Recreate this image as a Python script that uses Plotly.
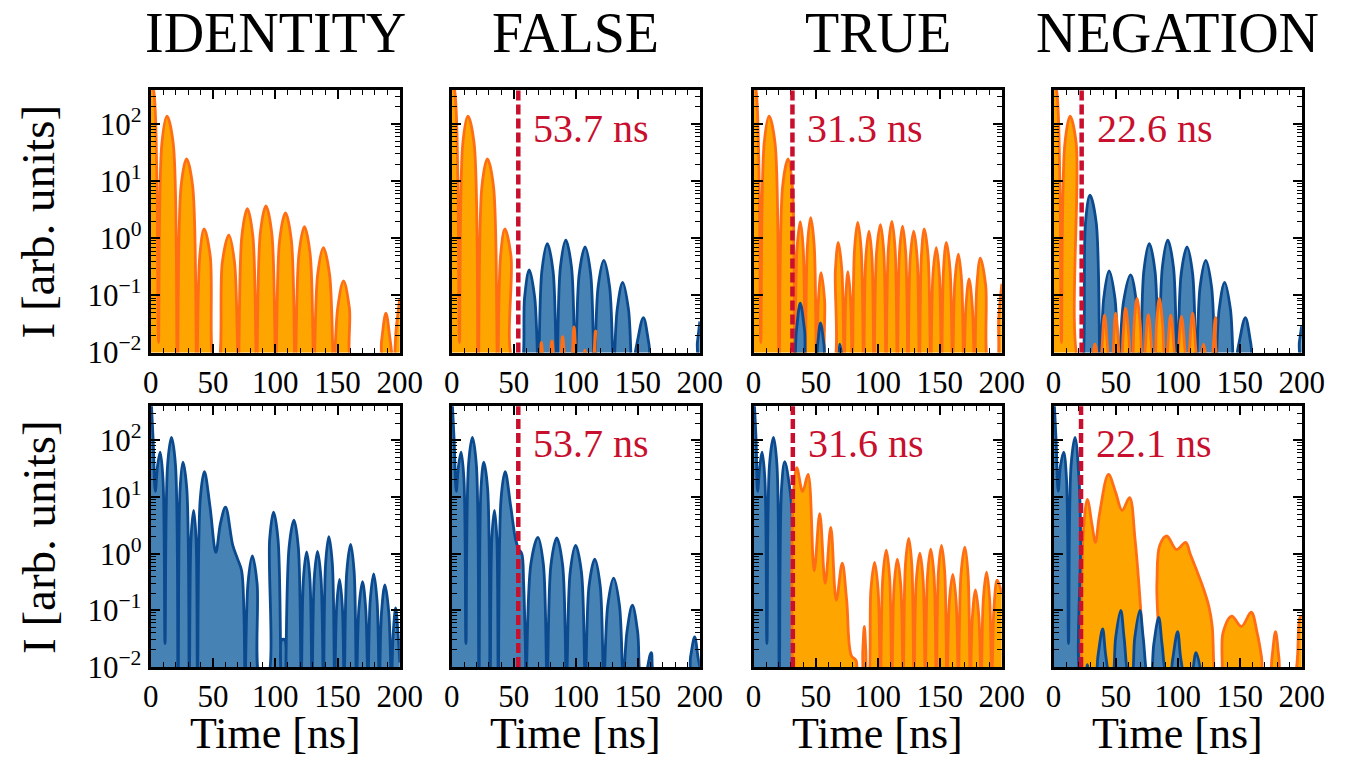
import plotly.graph_objects as go

# value standing for an intensity zero (drawn just below the 1e-2 axis floor)
Z = 0.006

# ---------------- data: (time [ns], intensity) ----------------
# Row 1 (top)
id_top_orange = [(0, 800), (3, 300), (5, 10), (6.3, 0.015), (9.0, 46), (13.1, 138), (18.1, 46), (21.4, Z),
                 (24.4, 8.2), (28.8, 24.5), (33.7, 8.2), (37.0, Z), (39.4, 0.49), (42.9, 1.47), (47.8, 0.49),
                 (51.0, Z), (54.0, Z), (57.5, 0.38), (62.7, 1.14), (67.3, 0.38), (70.3, Z), (73.2, 1.1),
                 (77.6, 3.3), (82.0, 1.1), (85.0, Z), (88.0, 1.23), (92.5, 3.7), (97.2, 1.23), (100.4, Z),
                 (103.5, 0.93), (108.2, 2.8), (112.9, 0.93), (116.0, Z), (119.0, 0.53), (123.4, 1.6),
                 (128.0, 0.53), (131.0, Z), (134.0, 0.23), (138.6, 0.69), (143.6, 0.23), (147.0, Z),
                 (150.1, 0.06), (154.8, 0.18), (159.5, 0.06), (162.6, Z), (183.0, Z), (185.3, 0.016),
                 (188.8, 0.049), (192.3, 0.016), (195.0, Z), (197.0, 0.025), (200, 0.09)]

fa_top_orange = [(0, 800), (3, 300), (5, 10), (6.3, 0.015), (9.0, 46), (13.1, 138), (18.1, 46), (21.4, Z),
                 (24.4, 8.2), (28.8, 24.5), (33.7, 8.2), (37.0, Z), (39.4, 0.49), (42.9, 1.47), (47.8, 0.49),
                 (51.0, Z), (69.5, Z), (72.2, 0.015), (75.0, Z), (78.0, Z), (80.8, 0.016), (83.6, Z),
                 (86.5, Z), (89.4, 0.019), (92.5, Z), (95.5, Z), (98.6, 0.028), (101.8, Z), (104.8, Z),
                 (107.4, 0.011), (110.0, Z), (113.0, Z), (116.0, 0.024), (119.0, Z), (200, Z)]
fa_top_blue = [(53.7, Z), (56.3, Z), (58.8, 0.093), (62.5, 0.28), (66.9, 0.093), (69.8, Z), (72.7, 0.27),
               (77.1, 0.81), (81.7, 0.27), (84.7, Z), (87.6, 0.31), (92.0, 0.93), (96.6, 0.31), (99.6, Z),
               (102.8, 0.24), (107.5, 0.71), (112.0, 0.24), (115.0, Z), (118.0, 0.14), (122.6, 0.41),
               (127.3, 0.14), (130.5, Z), (133.4, 0.057), (137.8, 0.17), (142.5, 0.057), (145.6, Z),
               (149.2, 0.014), (154.5, 0.041), (159.0, 0.014), (162.0, Z), (196.0, Z), (198.0, 0.015),
               (200, 0.035)]

tr_top_orange = [(0, 800), (2.5, 300), (4.5, 10), (5.8, 0.015), (8.5, 46), (12.5, 138), (17.3, 46), (20.5, Z),
                 (23.4, 8.2), (27.8, 24.5), (31.3, 8), (32.5, 0.5), (33.2, Z), (35.0, 0.65), (37.6, 1.95),
                 (40.0, 0.65), (41.6, Z), (43.4, 0.77), (46.0, 2.3), (48.8, 0.77), (50.7, Z), (52.2, 0.083),
                 (54.4, 0.25), (57.2, 0.083), (59.0, Z), (64.3, Z), (65.9, 0.28), (68.2, 0.85), (71.1, 0.28),
                 (73.0, Z), (74.2, 0.087), (76.0, 0.26), (78.1, 0.087), (79.5, Z), (81.3, 0.63), (83.9, 1.9),
                 (86.7, 0.63), (88.6, Z), (90.4, 0.45), (93.0, 1.34), (95.4, 0.45), (97.0, Z), (99.1, 0.58),
                 (102.2, 1.74), (104.9, 0.58), (106.7, Z), (108.6, 0.66), (111.4, 1.98), (114.0, 0.66),
                 (115.8, Z), (117.5, 0.54), (120.0, 1.63), (122.6, 0.54), (124.4, Z), (126.2, 0.45),
                 (129.0, 1.34), (131.8, 0.45), (133.6, Z), (135.2, 0.49), (137.5, 1.47), (140.6, 0.49),
                 (142.7, Z), (144.5, 0.23), (147.2, 0.69), (149.7, 0.23), (151.4, Z), (153.0, 0.28),
                 (155.3, 0.85), (158.3, 0.28), (160.3, Z), (162.2, 0.18), (165.0, 0.53), (167.6, 0.18),
                 (169.4, Z), (171.1, 0.065), (173.6, 0.195), (176.2, 0.065), (178.0, Z), (179.9, 0.15),
                 (182.7, 0.45), (187.0, 0.15), (189.8, Z), (195.5, Z), (197.5, 0.04), (200, 0.16)]
tr_top_blue = [(31.5, Z), (32.4, Z), (34.5, 0.024), (37.6, 0.073), (41.1, 0.024), (43.4, Z), (49.8, Z),
               (51.5, 0.013), (53.9, 0.033), (56.8, 0.013), (58.5, Z), (67.0, Z), (69.5, 0.014), (72.0, Z)]

ne_top_orange = [(0, 800), (3, 300), (5, 10), (6.3, 0.015), (9.1, 46), (13.3, 138), (18.2, 46), (21.4, Z),
                 (29.5, Z), (33.2, 0.014), (36.8, Z), (37.5, Z), (41.0, 0.045), (45.5, Z), (46.5, Z),
                 (50.0, 0.049), (54.0, Z), (54.5, Z), (56.0, 0.02), (58.0, 0.06), (60.6, 0.02), (62.6, Z),
                 (63.2, Z), (64.8, 0.03), (67.2, 0.089), (69.9, 0.03), (71.8, Z), (72.3, Z), (76.3, 0.046),
                 (80.8, Z), (81.3, Z), (82.9, 0.03), (85.2, 0.089), (87.9, 0.03), (89.8, Z), (90.3, Z),
                 (94.4, 0.045), (98.7, Z), (99.2, Z), (103.0, 0.043), (107.5, Z), (108.0, Z), (112.0, 0.049),
                 (116.4, Z), (117.5, Z), (120.8, 0.014), (124.5, Z), (126.5, Z), (130.5, 0.041), (135.0, Z),
                 (200, Z)]
ne_top_blue = [(22.6, Z), (23.3, Z), (25.7, 1.9), (29.3, 5.7), (34.3, 1.9), (37.6, Z), (40.4, 0.09),
               (44.7, 0.27), (49.4, 0.09), (52.5, Z), (56.3, 0.077), (62.0, 0.23), (66.7, 0.077), (69.8, Z),
               (72.7, 0.27), (77.1, 0.81), (81.7, 0.27), (84.7, Z), (87.6, 0.31), (92.0, 0.93), (96.6, 0.31),
               (99.6, Z), (102.8, 0.24), (107.5, 0.71), (112.0, 0.24), (115.0, Z), (118.0, 0.14),
               (122.6, 0.41), (127.3, 0.14), (130.5, Z), (133.4, 0.057), (137.8, 0.17), (142.5, 0.057),
               (145.6, Z), (149.2, 0.014), (154.5, 0.041), (159.0, 0.014), (162.0, Z), (196.0, Z),
               (198.0, 0.015), (200, 0.03)]

# Row 2 (bottom)
id_bot_blue = [(0, 800), (2, 100), (3.7, 12.6), (5.5, 35), (7.6, 62), (9.9, 20.7), (11.5, 0.026), (13.6, 37),
               (16.7, 112), (19.9, 37), (22.0, Z), (23.6, 13.7), (25.9, 41), (29.0, 13.7), (31.0, Z),
               (32.4, 1.9), (34.5, 5.8), (36.4, 1.9), (37.6, Z), (39.8, 9.3), (43.1, 28), (47.6, 6.8),
               (52.3, 1.05), (56.0, 3.4), (60.1, 6.6), (65.9, 1.4), (69.8, 0.8), (73.0, 0.5), (74.8, 0.1),
               (75.8, Z), (78.1, 0.3), (81.6, 0.91), (85.4, 0.3), (88.0, Z), (93.4, Z), (95.5, 1.8),
               (98.6, 5.4), (102.2, 1.8), (104.6, Z), (105.2, 0.03), (107.6, 0.03), (108.2, Z), (111.1, 1.3),
               (115.0, 3.9), (118.5, 1.3), (120.8, Z), (122.6, 0.36), (125.2, 1.07), (127.8, 0.36),
               (129.5, Z), (131.3, 0.37), (133.9, 1.1), (136.7, 0.37), (138.6, Z), (140.4, 0.67),
               (143.0, 2.0), (145.8, 0.67), (147.7, Z), (149.3, 0.12), (151.6, 0.35), (153.8, 0.12),
               (155.3, Z), (157.4, 0.48), (160.5, 1.45), (163.3, 0.48), (165.2, Z), (167.1, 0.107),
               (170.0, 0.32), (172.6, 0.107), (174.4, Z), (176.2, 0.147), (179.0, 0.44), (181.7, 0.147),
               (183.5, Z), (185.3, 0.093), (188.0, 0.28), (191.1, 0.093), (193.2, Z), (194.6, 0.037),
               (196.6, 0.11), (198.6, 0.037), (200, 0.012)]

fa_bot_blue = [(0, 800), (2, 100), (3.7, 12.6), (5.5, 35), (7.6, 62), (9.9, 20.7), (11.5, 0.026), (13.6, 37),
               (16.7, 112), (19.9, 37), (22.0, Z), (23.6, 13.7), (25.9, 41), (29.0, 13.7), (31.0, Z),
               (32.4, 1.9), (34.5, 5.8), (36.4, 1.9), (37.6, Z), (39.8, 9.3), (43.1, 28), (47.6, 6.8),
               (51.5, 1.8), (54.0, 1.2), (56.5, 1.0), (58.0, 0.3), (59.3, 0.03), (60.0, Z), (63.8, 0.65),
               (69.5, 1.94), (73.9, 0.65), (76.9, Z), (80.0, 0.63), (84.7, 1.9), (89.4, 0.63), (92.5, Z),
               (95.5, 0.47), (99.9, 1.4), (104.6, 0.47), (107.7, Z), (110.7, 0.27), (115.3, 0.8),
               (119.7, 0.27), (122.6, Z), (125.8, 0.123), (130.5, 0.37), (135.2, 0.123), (138.3, Z),
               (141.2, 0.041), (145.6, 0.123), (149.9, 0.041), (152.7, Z), (155.0, Z), (160.8, 0.018),
               (164.4, Z), (190.0, Z), (192.5, 0.015), (195.8, 0.034), (198.5, 0.015), (200, 0.01)]

tr_bot_blue = [(0, 800), (2, 100), (3.2, 12.6), (5.0, 35), (6.8, 62), (9.1, 20.7), (10.7, 0.026), (12.8, 37),
               (16.0, 112), (18.8, 37), (20.7, Z), (22.5, 14), (25.1, 42), (29.0, 15), (31.0, 5), (31.4, Z)]
tr_bot_orange = [(31.3, Z), (31.8, 8), (34.8, 33), (39.5, 12.5), (43.9, 25), (48.8, 0.5), (53.3, 5.1),
                 (57.7, 0.3), (62.2, 2.9), (66.6, 0.15), (71.4, 0.68), (75.0, 0.15), (78.7, 0.016),
                 (82.6, 0.013), (84.0, Z), (86.8, Z), (88.0, 0.02), (89.2, 0.052), (90.4, 0.02), (91.5, Z),
                 (92.5, Z), (94.5, 0.23), (97.5, 0.7), (100.3, 0.23), (102.2, Z), (104.1, 0.38), (106.9, 1.15),
                 (109.6, 0.38), (111.4, Z), (113.2, 0.27), (115.8, 0.8), (118.6, 0.27), (120.5, Z),
                 (122.3, 0.62), (125.0, 1.85), (127.5, 0.62), (129.2, Z), (131.1, 0.34), (134.0, 1.02),
                 (136.6, 0.34), (138.3, Z), (140.1, 0.4), (142.7, 1.2), (145.4, 0.4), (147.2, Z),
                 (148.9, 0.47), (151.4, 1.4), (154.0, 0.47), (155.8, Z), (157.7, 0.143), (160.5, 0.43),
                 (163.2, 0.143), (165.0, Z), (167.1, 0.43), (170.2, 1.3), (172.8, 0.43), (174.6, Z),
                 (176.3, 0.077), (178.8, 0.23), (181.5, 0.077), (183.3, Z), (185.1, 0.157), (187.7, 0.47),
                 (190.2, 0.157), (191.9, Z), (193.7, 0.113), (196.3, 0.34), (200, 0.2)]

ne_bot_blue = [(0, 800), (2, 100), (3.7, 12.6), (5.5, 35), (8.1, 62), (10.4, 20.7), (12.0, 0.026), (14.1, 37),
               (17.3, 112), (20.5, 20), (21.8, 2), (22.2, Z), (25.0, Z), (27.2, 0.011), (29.5, Z), (33.3, Z),
               (35.8, 0.016), (39.5, 0.047), (42.0, 0.016), (45.7, Z), (47.3, Z), (50.0, 0.033),
               (54.1, 0.1), (56.8, 0.033), (60.9, Z), (62.7, Z), (65.4, 0.033), (69.5, 0.1), (72.2, 0.033),
               (76.3, Z), (78.0, Z), (80.7, 0.025), (84.7, 0.075), (87.4, 0.025), (91.4, Z), (93.4, Z),
               (96.0, 0.014), (99.9, 0.042), (102.5, 0.014), (106.4, Z), (110.0, Z), (114.8, 0.018),
               (119.6, Z)]
ne_bot_orange = [(22.1, Z), (22.6, 0.3), (24.0, 2.5), (27.2, 9.1), (31.0, 3.2), (33.7, 1.58), (37.0, 5),
                 (44.2, 25), (50.0, 12), (55.2, 5.8), (61.2, 9.7), (65.6, 1.8), (69.0, 0.24), (71.0, 0.05),
                 (72.2, Z), (82.0, Z), (83.2, 0.3), (85.5, 1.4), (91.2, 2.05), (99.0, 1.18), (106.4, 1.58),
                 (110.0, 1.0), (114.8, 0.54), (120.0, 0.27), (125.0, 0.12), (127.8, 0.052), (129.0, 0.012),
                 (130.0, Z), (134.4, Z), (136.5, 0.04), (143.5, 0.079), (151.4, 0.052), (159.2, 0.093),
                 (164.0, 0.04), (167.5, 0.015), (169.5, Z), (173.6, Z), (176.0, 0.015), (178.8, 0.042),
                 (181.5, 0.015), (184.0, Z), (193.0, Z), (198.4, 0.074), (200, 0.08)]

titles = ["IDENTITY", "FALSE", "TRUE", "NEGATION"]
cut_times = [None, 53.7, 31.3, 22.6, None, 53.7, 31.6, 22.1]
cut_labels = [None, "53.7 ns", "31.3 ns", "22.6 ns", None, "53.7 ns", "31.6 ns", "22.1 ns"]
x_ticks = [0, 50, 100, 150, 200]
y_ticks = [0.01, 0.1, 1, 10, 100]
y_ticktext = ["10<sup>\u22122</sup>", "10<sup>\u22121</sup>", "10<sup>0</sup>", "10<sup>1</sup>", "10<sup>2</sup>"]

# panel -> curves in drawing order (later = on top)
panels = [
    [("o", id_top_orange)],
    [("b", fa_top_blue), ("o", fa_top_orange)],
    [("o", tr_top_orange), ("b", tr_top_blue)],
    [("b", ne_top_blue), ("o", ne_top_orange)],
    [("b", id_bot_blue)],
    [("b", fa_bot_blue)],
    [("b", tr_bot_blue), ("o", tr_bot_orange)],
    [("o", ne_bot_orange), ("b", ne_bot_blue)],
]

# ---------------- styling ----------------
W, H = 1360, 770
FONT = "Liberation Serif"
STYLE = {
    "o": dict(fill="#ffa500", line="#ff6e14"),
    "b": dict(fill="#4682b4", line="#0b4a8e"),
}
RED = "#c8102e"
col_px = [(146, 401), (454, 708), (763, 1017), (1070, 1324)]
row_px = [(92, 361), (416, 683)]
label_y = [0.853, 0.856]

minor_y = [m * 10.0 ** e for e in range(-2, 3) for m in range(2, 10)]

fig = go.Figure()
layout = dict(
    width=W, height=H, margin=dict(l=0, r=0, t=0, b=0),
    paper_bgcolor="white", plot_bgcolor="white", showlegend=False,
    font=dict(family=FONT, color="black"),
)
annotations = []
shapes = []


def sfx(n):
    return "" if n == 1 else str(n)


for k in range(8):
    r, c = divmod(k, 4)
    n = k + 1
    xd = [col_px[c][0] / W, col_px[c][1] / W]
    yd = [1 - row_px[r][1] / H, 1 - row_px[r][0] / H]
    common = dict(showline=True, linewidth=3, linecolor="black", mirror="allticks",
                  ticks="inside", ticklen=9, tickwidth=1.5, tickcolor="black",
                  showgrid=False, zeroline=False)
    layout["xaxis" + sfx(n)] = dict(
        domain=xd, anchor="y" + sfx(n), range=[0, 200],
        tickmode="array", tickvals=x_ticks, ticktext=[str(v) for v in x_ticks],
        tickfont=dict(family=FONT, size=31, color="black"),
        minor=dict(ticks="inside", dtick=10, tick0=0, ticklen=5, tickwidth=1, tickcolor="black"),
        **common)
    layout["yaxis" + sfx(n)] = dict(
        domain=yd, anchor="x" + sfx(n), type="log", range=[-2, 2.6],
        tickmode="array", tickvals=y_ticks, ticktext=y_ticktext, showticklabels=(c == 0),
        tickfont=dict(family=FONT, size=31, color="black"),
        minor=dict(ticks="inside", tickmode="array", tickvals=minor_y, ticklen=5, tickwidth=1,
                   tickcolor="black"),
        **common)

    for kind, pts in panels[k]:
        t = [p[0] for p in pts]
        v = [p[1] for p in pts]
        st = STYLE[kind]
        fig.add_trace(go.Scatter(
            x=t, y=v, mode="lines", xaxis="x" + sfx(n), yaxis="y" + sfx(n),
            line=dict(color=st["line"], width=2.8, shape="spline", smoothing=1.0),
            fill="tozeroy", fillcolor=st["fill"], hoverinfo="skip"))

    if cut_times[k] is not None:
        shapes.append(dict(type="line", xref="x" + sfx(n), yref="y" + sfx(n) + " domain",
                           x0=cut_times[k], x1=cut_times[k], y0=0, y1=1,
                           line=dict(color=RED, width=4.5, dash="10px,4px")))
        annotations.append(dict(xref="x" + sfx(n), yref="y" + sfx(n) + " domain",
                                x=cut_times[k], y=label_y[r], xshift=13, xanchor="left", yanchor="middle",
                                text=cut_labels[k], showarrow=False,
                                font=dict(family=FONT, size=40, color=RED)))

# column titles, x titles, y titles
for c in range(4):
    xc = (col_px[c][0] + col_px[c][1]) / 2 / W
    annotations.append(dict(xref="paper", yref="paper", x=xc, y=1 - 34 / H, text=titles[c],
                            showarrow=False, xanchor="center", yanchor="middle",
                            font=dict(family=FONT, size=56, color="black")))
    annotations.append(dict(xref="paper", yref="paper", x=xc, y=1 - 751 / H, text="Time [ns]",
                            showarrow=False, xanchor="center", yanchor="middle",
                            font=dict(family=FONT, size=44, color="black")))
for r in range(2):
    annotations.append(dict(xref="paper", yref="paper", x=31 / W,
                            y=1 - (row_px[r][0] + row_px[r][1]) / 2 / H, text="I [arb. units]",
                            textangle=-90, showarrow=False, xanchor="center", yanchor="middle",
                            font=dict(family=FONT, size=47, color="black")))

layout["annotations"] = annotations
layout["shapes"] = shapes
fig.update_layout(**layout)
fig.write_html("out.html")
